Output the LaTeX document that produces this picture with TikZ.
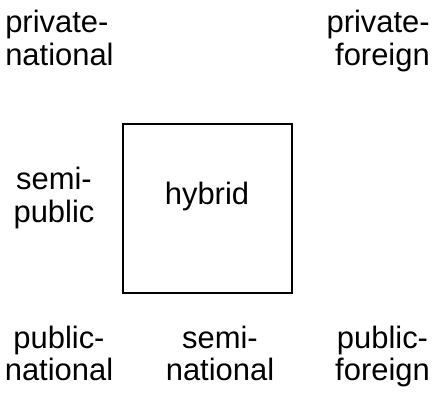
\documentclass[tikz,border=0pt]{standalone}
\usepackage{fontspec}
\setmainfont{Liberation Sans}
\begin{document}
\begin{tikzpicture}[x=0.75pt,y=-0.75pt,
  lbl/.style={inner sep=0pt,align=center,font=\fontsize{23.2}{24.5}\selectfont},
  box/.style={draw,line width=1.5pt,minimum width=126.75pt,minimum height=126.75pt,inner sep=0pt}]
\useasboundingbox (0,0) rectangle (434,392);
\node[box] (hyb) at (207.5,208.5) {};
\node[lbl] (hlab) at (207,197.5) {hybrid\strut};
\node[lbl,align=left,anchor=west] (pn) at (5,42.7) {private-\strut\\national\strut};
\node[lbl,align=right,anchor=east] (pf) at (430,42.7) {private-\strut\\foreign\strut};
\node[lbl] (sp) at (54,199.5) {semi-\strut\\public\strut};
\node[lbl] (pun) at (59,358) {public-\strut\\national\strut};
\node[lbl] (sn) at (220,358) {semi-\strut\\national\strut};
\node[lbl] (puf) at (382.5,358) {public-\strut\\foreign\strut};
\end{tikzpicture}
\end{document}
